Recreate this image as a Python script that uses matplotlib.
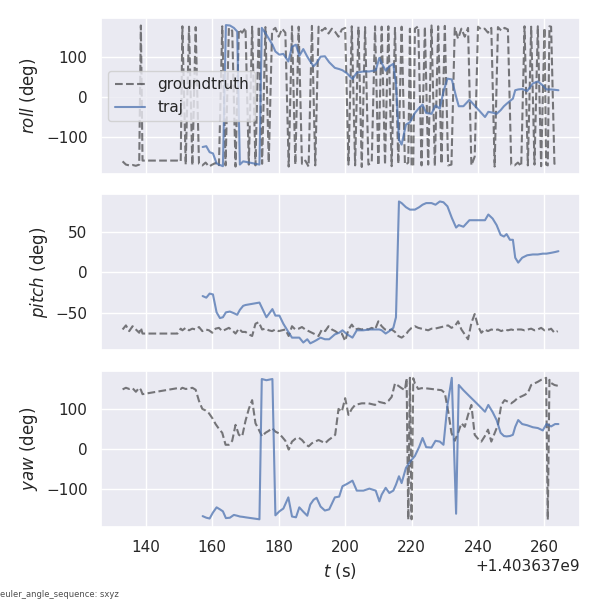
import numpy as np
import matplotlib
matplotlib.use('Agg')
import matplotlib.pyplot as plt
import seaborn as sns

T0 = 1403637000.0

# groundtruth (seconds after T0)
gt_t = [133, 134, 135, 136, 137, 138, 138.5, 139, 149.5, 150.5,
        151, 152, 153, 154, 155, 156, 157, 158, 159, 160,
        161, 162, 163, 164, 165, 166, 167, 168, 169, 170,
        171, 172, 173, 174, 175, 176, 177, 178, 179, 180,
        181, 182, 183, 184, 185, 186, 187, 188, 189, 190,
        191, 192, 193, 194, 195, 196, 197, 198, 199, 200,
        201, 202, 203, 204, 205, 206, 207, 208, 209, 210,
        211, 212, 213, 214, 215, 216, 217, 218, 218.5, 219,
        219.5, 220, 220.5, 221, 222, 223, 224, 225, 226, 227,
        228, 229, 230, 231, 232, 233, 234, 235, 236, 237,
        238, 239, 240, 241, 242, 243, 244, 245, 246, 247,
        248, 249, 250, 251, 252, 253, 254, 255, 256, 257,
        258, 259, 260, 260.5, 261, 261.5, 262, 263, 264]

gt_roll = [-162, -170, -172, -171, -173, -170, 178, -160, -160, -162,
           176, -170, 175, -172, 174, -168, -172, -165, -175, -170,
           -166, -174, 176, -172, 172, 165, -175, 168, 160, 172,
           -170, 175, -172, 176, -168, 174, -165, 165, 172, 150,
           170, 160, -175, 176, -170, 175, -168, -160, -175, 177,
           -172, 175, 165, 172, 158, 170, 162, 150, 168, 172,
           -170, 176, -172, 175, -176, 174, -170, -165, 176, -172,
           175, -170, 176, -174, 172, -168, 175, -170, -168, -165,
           170, -175, -172, 170, 176, -172, 175, -170, 178, -174,
           176, -168, 177, -172, -170, 172, 145, 170, 150, 172,
           -172, -150, 175, 168, 170, 160, 172, -175, 174, 165,
           172, 168, -170, -172, -165, -174, 176, -172, 175, -170,
           176, -174, 172, -170, -172, 176, 175, -168, -166]

gt_pitch = [-70, -65, -72, -66, -70, -74, -68, -75, -75, -69,
            -71, -68, -71, -69, -70, -67, -72, -70, -71, -74,
            -69, -68, -72, -70, -68, -71, -75, -69, -73, -73,
            -76, -78, -63, -61, -70, -69, -71, -72, -70, -72,
            -71, -70, -78, -66, -70, -69, -67, -70, -72, -74,
            -76, -78, -70, -72, -66, -70, -72, -75, -75, -84,
            -70, -64, -70, -69, -70, -69, -70, -68, -70, -60,
            -66, -70, -71, -70, -73, -78, -80, -77, -75, -72,
            -70, -68, -67, -66, -68, -69, -70, -71, -69, -69,
            -68, -67, -66, -65, -68, -66, -60, -70, -76, -82,
            -62, -51, -66, -74, -70, -72, -70, -71, -70, -72,
            -70, -71, -70, -71, -70, -70, -71, -70, -69, -71,
            -70, -68, -71, -70, -70, -70, -69, -74, -72]

gt_yaw = [149, 153, 150, 152, 143, 153, 148, 137, 152, 150,
          153, 150, 151, 153, 148, 120, 100, 96, 89, 77,
          62, 50, 40, 10, 10, 20, 60, 35, 31, 70,
          100, 122, 64, 48, 31, 40, 45, 52, 43, 39,
          30, 20, -2, 18, 25, 28, 22, 12, 6, 14,
          18, 22, 18, 14, 22, 28, 35, 100, 93, 127,
          85, 100, 110, 112, 114, 114, 114, 112, 110, 118,
          116, 114, 120, 130, 164, 158, 152, 147, 177, -178,
          178, -177, 177, 164, 150, 152, 152, 151, 150, 149,
          148, 147, 140, 95, 40, 20, 40, 64, 55, 85,
          110, 35, 25, 18, 31, 48, 18, 39, 60, 110,
          122, 118, 114, 120, 128, 131, 135, 140, 160, 164,
          168, 173, 175, 178, -178, 173, 165, 160, 158]

# estimated trajectory
traj_t = [157.1, 158.2, 159.2, 160.2, 161.3, 162.3, 163.2, 164.1, 165.3, 166.5,
          167.5, 168.3, 169.3, 170.0, 174.2, 174.9, 176.3, 178.1, 179.0, 180.2,
          181.4, 182.9, 184.0, 185.2, 186.2, 187.4, 188.6, 189.5, 190.5, 191.4,
          192.6, 193.9, 195.2, 196.9, 198.2, 199.2, 200.6, 202.2, 203.5, 205.5,
          207.3, 209.2, 210.3, 211.0, 212.2, 213.3, 214.5, 215.3, 216.2, 217.0,
          218.3, 219.5, 221.0, 222.3, 223.3, 224.4, 226.0, 227.2, 228.5, 229.6,
          230.8, 232.1, 233.4, 234.2, 235.6, 237.4, 239.6, 242.1, 243.1, 244.4,
          245.6, 246.8, 247.8, 248.6, 249.6, 250.5, 251.2, 252.1, 253.3, 254.8,
          256.5, 258.0, 259.5, 260.6, 262.0, 263.2, 264.2]

traj_roll = [-126, -124, -139, -142, -167, -171, -174, 179, 178, 172,
             163, -170, -162, -163, -170, 172, 155, 130, 113, 105,
             107, 88, 125, 130, 102, 119, 100, 88, 76, 84,
             100, 101, 86, 72, 69, 66, 58, 44, 60, 63,
             63, 66, 97, 84, 65, 76, 82, 30, -108, -120,
             -70, -64, -41, -28, -20, -41, -43, -22, -30, 13,
             45, 43, 0, -24, -24, -8, -28, -51, -38, -40,
             -43, -34, -24, -18, -11, -5, 16, 18, 19, 14,
             33, 38, 28, 18, 18, 17, 16]

traj_pitch = [-29, -31, -26, -27, -49, -56, -55, -49, -48, -50,
              -52, -46, -41, -40, -37, -43, -55, -45, -53, -53,
              -63, -73, -80, -80, -80, -86, -82, -87, -85, -83,
              -80, -82, -82, -76, -74, -71, -76, -80, -71, -71,
              -70, -70, -70, -71, -75, -72, -68, -55, 87, 85,
              80, 77, 77, 80, 83, 85, 85, 83, 87, 86,
              81, 67, 55, 58, 56, 64, 64, 64, 71, 66,
              58, 46, 44, 47, 40, 40, 18, 12, 18, 21,
              22, 22, 23, 23, 24, 25, 26]

traj_yaw = [-169, -173, -175, -160, -147, -152, -157, -174, -173, -166,
            -168, -170, -171, -172, -177, 175, 172, 175, -167, -157,
            -150, -122, -170, -172, -147, -158, -168, -140, -128, -123,
            -145, -155, -152, -122, -120, -94, -88, -80, -105, -105,
            -100, -105, -132, -115, -98, -111, -105, -90, -69, -86,
            -48, -33, -18, 5, 27, 4, 3, 20, 18, 10,
            110, 178, -163, 160, 147, 132, 114, 93, 110, 92,
            72, 40, 32, 31, 32, 35, 55, 72, 62, 59,
            54, 52, 46, 62, 56, 62, 62]

labels = ['$roll$ (deg)', '$pitch$ (deg)', '$yaw$ (deg)']

sns.set_theme(style='darkgrid')

gt_x = T0 + np.array(gt_t)
traj_x = T0 + np.array(traj_t)

fig, axarr = plt.subplots(3, sharex=True, figsize=(6, 6), dpi=100)
gt_vals = [gt_roll, gt_pitch, gt_yaw]
traj_vals = [traj_roll, traj_pitch, traj_yaw]
for i, ax in enumerate(axarr):
    ax.plot(gt_x, gt_vals[i], '--', color='black', alpha=0.5, label='groundtruth')
    ax.plot(traj_x, traj_vals[i], '-', color=sns.color_palette('deep')[0],
            alpha=0.75, label='traj')
    ax.set_ylabel(labels[i])

axarr[0].legend(loc='center left', frameon=True)
axarr[2].set_xlabel('$t$ (s)')
fig.text(0.0, 0.005, 'euler_angle_sequence: sxyz', fontsize=6, color='0.3')

plt.subplots_adjust(left=0.168, right=0.967, top=0.97, bottom=0.122, hspace=0.13)
plt.savefig('out.png', dpi=100)
